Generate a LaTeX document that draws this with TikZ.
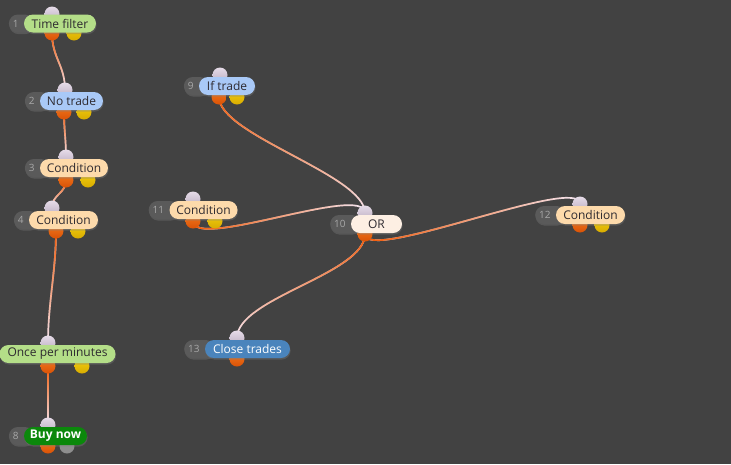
\documentclass[tikz,border=0pt]{standalone}
\usepackage{fontspec}
\setmainfont{Open Sans}
\usetikzlibrary{fadings,shadows}

\definecolor{canvas}{HTML}{424242}
\definecolor{badgegrey}{HTML}{5A5A5A}
\definecolor{numgrey}{HTML}{A8A8A8}
\definecolor{inhi}{HTML}{E6DCE8}
\definecolor{inlo}{HTML}{BCAEC2}
\definecolor{outhi}{HTML}{F07A20}
\definecolor{outlo}{HTML}{DA5206}
\definecolor{yelhi}{HTML}{F2CE10}
\definecolor{yello}{HTML}{D8AC00}
\definecolor{extgrey}{HTML}{8E8E8E}
\definecolor{linkpale}{HTML}{F4E6F2}
\definecolor{linkorange}{HTML}{F25A06}
\definecolor{pgreen}{HTML}{B4DE88}
\definecolor{pblue}{HTML}{A9C9F7}
\definecolor{ppeach}{HTML}{FDDAAB}
\definecolor{pcream}{HTML}{FDEFE3}
\definecolor{psteel}{HTML}{4A84BC}
\definecolor{pbuy}{HTML}{0B880B}
\definecolor{ptext}{HTML}{2E2A30}

\pgfdeclarelayer{canvas}
\pgfdeclarelayer{links}
\pgfdeclarelayer{badges}
\pgfdeclarelayer{ports}
\pgfsetlayers{canvas,links,badges,ports,main}

\tikzfading[name=wire south, top color=transparent!0, middle color=transparent!20, bottom color=transparent!100]
\tikzfading[name=wire east, left color=transparent!0, middle color=transparent!20, right color=transparent!100]

\tikzset{
  pill/.style={rounded corners=9pt, minimum height=18pt, inner xsep=2pt, inner ysep=0pt,
    text=ptext, font=\fontsize{12}{14}\selectfont,
    drop shadow={opacity=0.35, shadow xshift=0.6pt, shadow yshift=-1.6pt}},
  badge/.style={fill=badgegrey, rounded corners=9pt, minimum height=18pt, inner xsep=4pt,
    inner ysep=0pt, text=numgrey, font=\fontsize{10}{11}\selectfont, anchor=east,
    drop shadow={opacity=0.35, shadow xshift=0.6pt, shadow yshift=-1.6pt}},
  port/.style={circle, minimum size=15pt, inner sep=0pt},
  inport/.style={port, top color=inhi, bottom color=inlo},
  outport/.style={port, top color=outhi, bottom color=outlo},
  yport/.style={port, top color=yelhi, bottom color=yello},
  link/.style={line width=1.7pt, draw=linkpale},
}

% grey number tab sitting under the left end of a block
\newcommand{\numtab}[2]{\node[badge] (#1-num) at ([xshift=10pt]#1.west) {#2\kern11pt};}
% wire from an output port to an input port, orange fading into pale
\newcommand{\wire}[4]{%
  \draw[link] (#1.center) .. controls +(0,#3) and +(0,-#3) .. (#2.center);
  \draw[link, draw=linkorange, path fading=#4] (#1.center) .. controls +(0,#3) and +(0,-#3) .. (#2.center);}

\begin{document}
\begin{tikzpicture}[x=1pt, y=-1pt]
    \begin{pgfonlayer}{canvas}
        \fill[canvas] (0,0) rectangle (731,464);
    \end{pgfonlayer}
    \useasboundingbox (0,0) rectangle (731,464);

    % blocks
    \node[pill, fill=pgreen, minimum width=72pt] (tf) at (60,23.5) {Time filter};
    \node[pill, fill=pblue, minimum width=63pt] (nt) at (71.5,101) {No trade};
    \node[pill, fill=ppeach, minimum width=68pt] (cd3) at (74,168) {Condition};
    \node[pill, fill=ppeach, minimum width=69pt] (cd4) at (63.5,220) {Condition};
    \node[pill, fill=pgreen, minimum width=116pt] (opm) at (57.5,354) {Once per minutes};
    \node[pill, fill=pbuy, text=white, minimum width=63pt, font=\fontsize{12}{14}\selectfont\bfseries] (buy) at (55.5,436) {Buy now};
    \node[pill, fill=pblue, minimum width=56pt] (ift) at (227,86) {If trade};
    \node[pill, fill=pcream, minimum width=51pt] (or) at (376.5,224) {OR};
    \node[pill, fill=ppeach, minimum width=68pt] (cd11) at (203.5,210) {Condition};
    \node[pill, fill=ppeach, minimum width=69pt] (cd12) at (590.5,215) {Condition};
    \node[pill, fill=psteel, text=white, minimum width=85pt] (close) at (247.5,349) {Close trades};

    \begin{pgfonlayer}{badges}
        \numtab{tf}{1}
        \numtab{nt}{2}
        \numtab{cd3}{3}
        \numtab{cd4}{4}
        \numtab{buy}{8}
        \numtab{ift}{9}
        \numtab{or}{10}
        \numtab{cd11}{11}
        \numtab{cd12}{12}
        \numtab{close}{13}
    \end{pgfonlayer}

    % ports
    \begin{pgfonlayer}{ports}
        \foreach \n/\xi/\yi/\xo/\yo in {tf/52/14/52/33, nt/65/90/64/112, cd3/66/157/66/180,
            cd4/52/208/56/231, opm/48/343/48/366, buy/48/425/48/446, ift/220/75/219/97,
            or/365/213/365/234, cd11/193/199/193/221, cd12/580/204/580/225, close/237/338/237/359} {
            \node[inport] (\n-in) at (\xi,\yi) {};
            \node[outport] (\n-out) at (\xo,\yo) {};
        }
        \foreach \n/\x/\y in {tf/74/33, nt/84/112, cd3/88/180, cd4/78/231, opm/82/366,
            ift/237/97, cd11/215/221, cd12/602/225} {
            \node[yport] (\n-ext) at (\x,\y) {};
        }
        \node[port, fill=extgrey] (buy-ext) at (67,446) {};
    \end{pgfonlayer}

    % wires
    \begin{pgfonlayer}{links}
        \wire{tf-out}{nt-in}{25}{wire south}
        \wire{nt-out}{cd3-in}{18}{wire south}
        \wire{cd3-out}{cd4-in}{14}{wire south}
        \wire{cd4-out}{opm-in}{40}{wire south}
        \wire{opm-out}{buy-in}{25}{wire south}
        \wire{ift-out}{or-in}{38}{wire south}
        \wire{cd11-out}{or-in}{30}{wire east}
        \wire{or-out}{cd12-in}{30}{wire east}
        \wire{or-out}{close-in}{40}{wire south}
    \end{pgfonlayer}
\end{tikzpicture}
\end{document}
